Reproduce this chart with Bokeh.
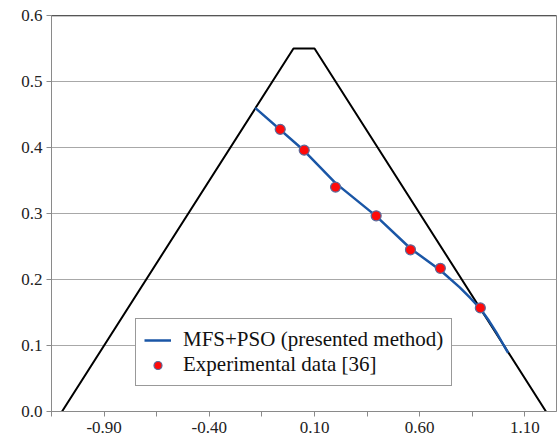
from bokeh.plotting import figure
from bokeh.models import (FixedTicker, NumeralTickFormatter, Range1d, Span)
from bokeh.embed import file_html
from bokeh.resources import INLINE

# Geometry (black outline)
tri_x = [-1.10, 0.0, 0.10, 1.20]
tri_y = [0.0, 0.55, 0.55, 0.0]

# MFS+PSO (presented method)
mfs_x = [-0.182, 0.051, 0.2, 0.393, 0.556, 0.698, 0.79, 0.84, 0.89, 0.93, 0.964, 1.0, 1.02]
mfs_y = [0.460, 0.395, 0.346, 0.296, 0.247, 0.214, 0.188, 0.172, 0.155, 0.137, 0.120, 0.100, 0.089]

# Experimental data [36]
exp_x = [-0.063, 0.051, 0.200, 0.393, 0.556, 0.698, 0.888]
exp_y = [0.4275, 0.396, 0.340, 0.2965, 0.245, 0.217, 0.157]

x_major = [-0.90, -0.40, 0.10, 0.60, 1.10]
x_minor = [-1.15, -0.65, -0.15, 0.35, 0.85]
y_major = [0.0, 0.1, 0.2, 0.3, 0.4, 0.5, 0.6]

p = figure(width=559, height=439, output_backend="svg", toolbar_location=None,
           x_range=Range1d(-1.15, 1.25), y_range=Range1d(0.0, 0.6),
           min_border_left=51, min_border_right=3, min_border_top=15, min_border_bottom=28)
p.background_fill_color = "white"
p.border_fill_color = "white"
p.outline_line_color = "#8a8a8a"

FONT = "Liberation Serif"

p.xaxis.ticker = FixedTicker(ticks=x_major, minor_ticks=x_minor)
p.xaxis.formatter = NumeralTickFormatter(format="0.00")
p.yaxis.ticker = FixedTicker(ticks=y_major)
p.yaxis.formatter = NumeralTickFormatter(format="0.0")
for ax in (p.xaxis, p.yaxis):
    ax.axis_line_color = "#8a8a8a"
    ax.major_tick_line_color = "#8a8a8a"
    ax.minor_tick_line_color = "#8a8a8a"
    ax.major_tick_in = 0
    ax.minor_tick_in = 0
    ax.major_label_text_font = FONT
    ax.major_label_text_font_size = "17px"
    ax.major_label_text_color = "#222222"
p.xaxis.major_tick_out = 5
p.xaxis.minor_tick_out = 5
p.xaxis.major_label_standoff = 5
p.yaxis.major_tick_out = 5
p.yaxis.minor_tick_line_color = None
p.yaxis.major_label_standoff = 4

p.xgrid.grid_line_color = None
p.ygrid.grid_line_color = "#a8a8a8"
p.ygrid.grid_line_width = 1

top = Span(location=p.y_range.end, dimension="width", line_color="#222222", line_width=1.5)
p.add_layout(top)

p.line(tri_x, tri_y, line_color="black", line_width=2)
p.line(mfs_x, mfs_y, line_color="#1a56a6", line_width=2.5,
       legend_label="MFS+PSO (presented method)")
p.scatter(exp_x, exp_y, marker="circle", size=10, fill_color="#ff0a0a",
          line_color="#5b6a9a", line_width=1.2,
          legend_label="Experimental data [36]")

lg = p.legend[0]
lg.location = (84, 25)
lg.border_line_color = "#333333"
lg.border_line_width = 1
lg.background_fill_color = "white"
lg.background_fill_alpha = 1
lg.label_text_font = FONT
lg.label_text_font_size = "21px"
lg.label_text_color = "#111111"
lg.label_height = 20
lg.glyph_height = 20
lg.glyph_width = 27
lg.label_standoff = 12
lg.spacing = 0
lg.padding = 8
lg.margin = 0

open("out.html", "w").write(file_html(p, INLINE))
